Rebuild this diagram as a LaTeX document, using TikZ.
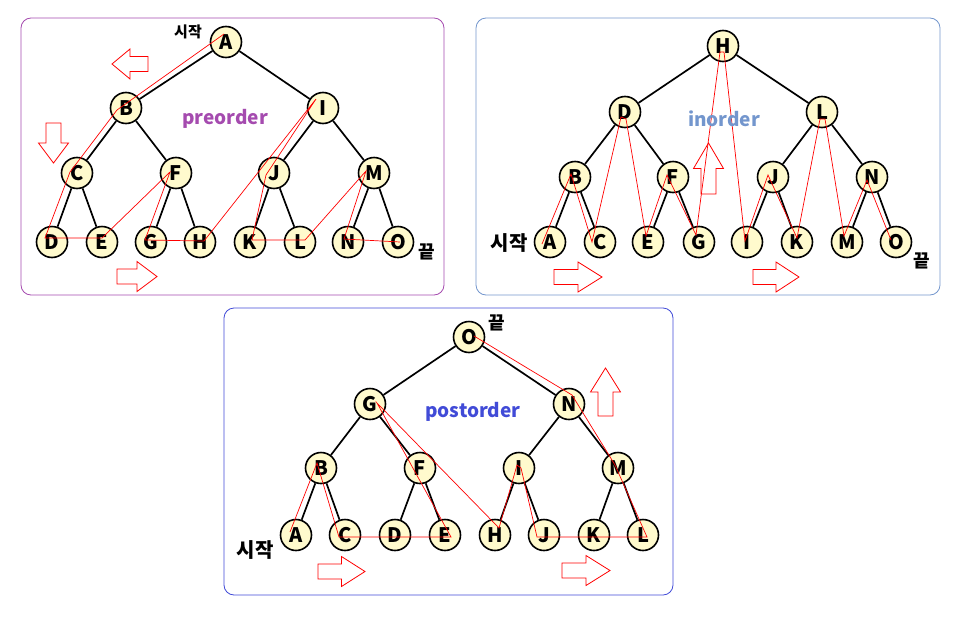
\documentclass[tikz,border=0pt]{standalone}
\usepackage{fontspec}
\setmainfont{Noto Sans CJK KR}
\usepackage{tikz}
\usepackage{xcolor}
\definecolor{nodefill}{RGB}{255,250,205}
\definecolor{precol}{RGB}{165,75,175}
\definecolor{incol}{RGB}{115,150,205}
\definecolor{postcol}{RGB}{65,75,215}

\begin{document}
\begin{tikzpicture}[x=1pt, y=-1pt,
  tnode/.style={circle, draw=black, line width=1.6pt, fill=nodefill,
    minimum size=31pt, inner sep=0pt, font=\fontsize{20}{20}\selectfont\bfseries},
  tedge/.style={line width=1.7pt},
  trace/.style={red, line width=0.7pt},
  frame/.style={rounded corners=10pt, line width=0.8pt},
  lbl/.style={font=\fontsize{#1}{#1}\selectfont\bfseries},
  title/.style={font=\fontsize{19}{19}\selectfont\bfseries},
  pics/blockarr/.style={code={
    \draw[red, line width=0.8pt] (0,-7.5) -- ({#1/2},-7.5) -- ({#1/2},-15) -- (#1,0)
      -- ({#1/2},15) -- ({#1/2},7.5) -- (0,7.5) -- cycle;}}]
  \useasboundingbox (0,0) rectangle (958,616);

  % Frames
  \draw[frame, draw=precol] (21,18) rectangle (444,295);
  \draw[frame, draw=incol] (476,18) rectangle (940,295);
  \draw[frame, draw=postcol] (224,308) rectangle (673,595);

  % ---- preorder ----
  \foreach \n/\x/\y in {A/226/42, B/126/108, I/323/108, C/77/173, F/176/173, J/274/173,
      M/374/173, D/52/242, E/102/242, G/151/242, H/200/242, K/250/242, L/300/242,
      N/348/242, O/398/242}
    \node[tnode] (p\n) at (\x,\y) {\n};
  \foreach \a/\b in {A/B, A/I, B/C, B/F, I/J, I/M, C/D, C/E, F/G, F/H, J/K, J/L, M/N, M/O}
    \draw[tedge] (p\a) -- (p\b);
  \draw[trace] ([shift={(-2,-8)}]pA.center) -- ([shift={(-9,2)}]pB.center)
    -- ([shift={(-7,-1)}]pC.center) -- ([shift={(-7,-4)}]pD.center)
    -- ([shift={(0,-4)}]pE.center) -- ([shift={(-6,-1)}]pF.center)
    -- ([shift={(-6,-2)}]pG.center) -- ([shift={(4,-1)}]pH.center)
    -- ([shift={(-7,-9)}]pI.center) -- ([shift={(-8,2)}]pJ.center)
    -- ([shift={(2,-2)}]pK.center) -- ([shift={(5,-2)}]pL.center)
    -- ([shift={(-8,-2)}]pM.center) -- ([shift={(-4,-3)}]pN.center)
    -- ([shift={(2,0)}]pO.center);
  \node[title, text=precol] (ptitle) at (225,119) {preorder};
  \node[lbl=15] (pstart) at (188,32) {시작};
  \node[lbl=18] (pend) at (427,252) {끝};
  \pic[rotate=180] at (148,64) {blockarr=36};
  \pic[rotate=-90] at (53.5,123) {blockarr=40};
  \pic at (117,276.5) {blockarr=40};

  % ---- inorder ----
  \foreach \n/\x/\y in {H/723/46, D/625/112, L/822/112, B/575/177, F/673/177, J/773/177,
      N/872/177, A/550/242, C/600/242, E/648/242, G/699/242, I/747/242, K/797/242,
      M/847/242, O/896/242}
    \node[tnode] (i\n) at (\x,\y) {\n};
  \foreach \a/\b in {H/D, H/L, D/B, D/F, L/J, L/N, B/A, B/C, F/E, F/G, J/I, J/K, N/M, N/O}
    \draw[tedge] (i\a) -- (i\b);
  \draw[trace] ([shift={(-8,2)}]iA.center) -- ([shift={(-4,-3)}]iB.center)
    -- ([shift={(-8,0)}]iC.center) -- ([shift={(-4,5)}]iD.center)
    -- ([shift={(1,7)}]iD.center) -- ([shift={(-2,-6)}]iE.center)
    -- ([shift={(-6,-2)}]iF.center) -- ([shift={(-3,-7)}]iG.center)
    -- ([shift={(-3,6)}]iH.center) -- ([shift={(1,6)}]iH.center)
    -- ([shift={(-2,-1)}]iI.center) -- ([shift={(-5,-2)}]iJ.center)
    -- ([shift={(0,-4)}]iK.center) -- ([shift={(-2,7)}]iL.center)
    -- ([shift={(3,7)}]iL.center) -- ([shift={(-3,-6)}]iM.center)
    -- ([shift={(-5,3)}]iN.center) -- ([shift={(-5,-2)}]iO.center);
  \node[title, text=incol] (ititle) at (724,119) {inorder};
  \node[lbl=20] (istart) at (509,243) {시작};
  \node[lbl=18] (iend) at (922,261) {끝};
  \pic[rotate=90] at (708.5,194) {blockarr=51};
  \pic at (554,277) {blockarr=48};
  \pic at (753,277) {blockarr=46};

  % ---- postorder ----
  \foreach \n/\x/\y in {O/469/337, G/370/404, N/569/404, B/321/468, F/420/468, I/519/468,
      M/618/468, A/296/535, C/345/535, D/395/535, E/445/535, H/495/535, J/544/535,
      K/594/535, L/643/535}
    \node[tnode] (q\n) at (\x,\y) {\n};
  \foreach \a/\b in {O/G, O/N, G/B, G/F, N/I, N/M, B/A, B/C, F/D, F/E, I/H, I/J, M/K, M/L}
    \draw[tedge] (q\a) -- (q\b);
  \draw[trace] ([shift={(-6,-3)}]qA.center) -- ([shift={(-4,-5)}]qB.center)
    -- ([shift={(-6,2)}]qC.center) -- ([shift={(6,2)}]qE.center)
    -- ([shift={(7,-1)}]qG.center) -- ([shift={(4,-7)}]qH.center)
    -- ([shift={(-2,-3)}]qI.center) -- ([shift={(2,0)}]qI.center)
    -- ([shift={(-7,2)}]qJ.center) -- ([shift={(4,2)}]qL.center)
    -- ([shift={(-3,-3)}]qM.center) -- ([shift={(3,-9)}]qN.center)
    -- ([shift={(5,-1)}]qO.center);
  \node[title, text=postcol] (qtitle) at (473,412) {postorder};
  \node[lbl=20] (qstart) at (255,550) {시작};
  \node[lbl=18] (qend) at (497,323) {끝};
  \pic at (318,571.5) {blockarr=47};
  \pic at (562,570.5) {blockarr=48};
  \pic[rotate=90] at (605.5,416) {blockarr=48};
\end{tikzpicture}
\end{document}
